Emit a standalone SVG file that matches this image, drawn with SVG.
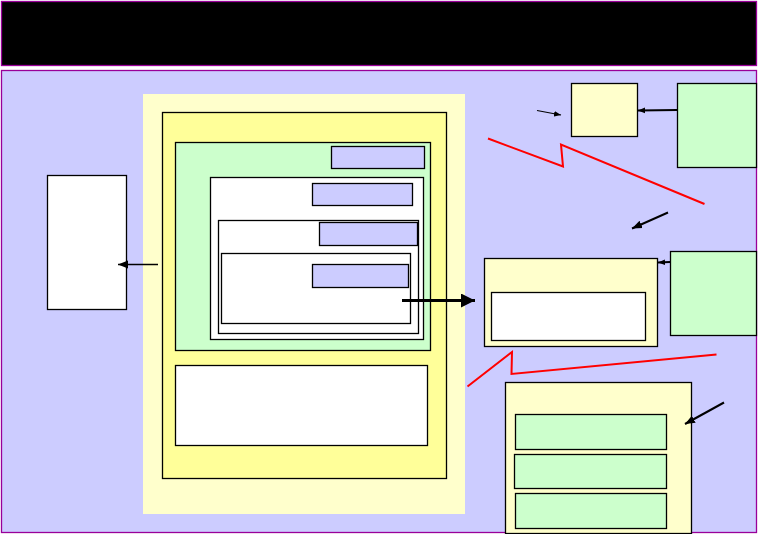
<svg xmlns="http://www.w3.org/2000/svg" width="758" height="534" viewBox="0 0 758 534">
<defs>
<style>
.box{stroke:#000;stroke-width:1.3}
.lb{fill:#CCCCFF}
.ly{fill:#FFFFCC}
.yy{fill:#FFFF99}
.gr{fill:#CCFFCC}
.wh{fill:#FFFFFF}
.conn{stroke:#000;fill:none}
.red{stroke:#FF0000;stroke-width:2;fill:none}
</style>
<marker id="ah" markerUnits="userSpaceOnUse" markerWidth="10" markerHeight="10" viewBox="0 0 10 10" refX="10" refY="5" orient="auto">
<path d="M0,1 L10,5 L0,9 z" fill="#000"/>
</marker>
<marker id="ahs" markerUnits="userSpaceOnUse" markerWidth="7" markerHeight="7" viewBox="0 0 10 10" refX="10" refY="5" orient="auto">
<path d="M0,1 L10,5 L0,9 z" fill="#000"/>
</marker>
<marker id="ahb" markerUnits="userSpaceOnUse" markerWidth="14" markerHeight="14" viewBox="0 0 10 10" refX="10" refY="5" orient="auto">
<path d="M0,0 L10,5 L0,10 z" fill="#000"/>
</marker>
</defs>
<g id="title"><rect x="1.5" y="1.5" width="755" height="64" fill="#000" stroke="#990099" stroke-width="1.3"/></g>
<g id="panel"><rect x="1.5" y="70.5" width="755" height="462" fill="#CCCCFF" stroke="#990099" stroke-width="1.3"/></g>
<g id="outer-area"><rect x="143" y="94" width="322" height="420" fill="#FFFFCC"/></g>
<g id="yellow-box"><rect class="box yy" x="162.5" y="112.5" width="284" height="366"/></g>
<g id="green-box"><rect class="box gr" x="175.5" y="142.5" width="255" height="208"/></g>
<g id="label1"><rect class="box lb" x="331.5" y="146.5" width="93" height="22"/></g>
<g id="white1"><rect class="box wh" x="210.5" y="177.5" width="213" height="162"/></g>
<g id="label2"><rect class="box lb" x="312.5" y="183.5" width="100" height="22"/></g>
<g id="white2"><rect class="box wh" x="218.5" y="220.5" width="200" height="113"/></g>
<g id="label3"><rect class="box lb" x="319.5" y="222.5" width="98" height="23"/></g>
<g id="white3"><rect class="box wh" x="221.5" y="253.5" width="189" height="70"/></g>
<g id="label4"><rect class="box lb" x="312.5" y="264.5" width="96" height="23"/></g>
<g id="bottom-white"><rect class="box wh" x="175.5" y="365.5" width="252" height="80"/></g>
<g id="left-box"><rect class="box wh" x="47.5" y="175.5" width="79" height="134"/></g>
<g id="small-yellow"><rect class="box ly" x="571.5" y="83.5" width="66" height="53"/></g>
<g id="green-top-right"><rect class="box gr" x="677.5" y="83.5" width="79" height="84"/></g>
<g id="mid-yellow"><rect class="box ly" x="484.5" y="258.5" width="173" height="88"/></g>
<g id="mid-white"><rect class="box wh" x="491.5" y="292.5" width="154" height="48"/></g>
<g id="green-mid-right"><rect class="box gr" x="670.5" y="251.5" width="86" height="84"/></g>
<g id="bottom-yellow"><rect class="box ly" x="505.5" y="382.5" width="186" height="151"/></g>
<g id="row1"><rect class="box gr" x="515.5" y="414.5" width="151" height="35"/></g>
<g id="row2"><rect class="box gr" x="514.5" y="454.5" width="152" height="34"/></g>
<g id="row3"><rect class="box gr" x="515.5" y="493.5" width="151" height="35"/></g>
<g id="connectors">
<line class="conn" x1="158" y1="264.5" x2="118" y2="264.5" stroke-width="1.3" marker-end="url(#ah)"/>
<line class="conn" x1="402" y1="300.5" x2="475" y2="300.5" stroke-width="3" marker-end="url(#ahb)"/>
<line class="conn" x1="677" y1="110" x2="638" y2="110.5" stroke-width="2.2" marker-end="url(#ahs)"/>
<line class="conn" x1="537" y1="110.5" x2="561" y2="115" stroke-width="1.2" marker-end="url(#ahs)"/>
<line class="conn" x1="668" y1="212.5" x2="632" y2="228.5" stroke-width="2" marker-end="url(#ah)"/>
<line class="conn" x1="670" y1="262" x2="658" y2="262.5" stroke-width="2.2" marker-end="url(#ahs)"/>
<line class="conn" x1="724" y1="402.5" x2="685" y2="424" stroke-width="2" marker-end="url(#ah)"/>
<polyline class="red" points="488,138.5 563,166.5 561,144.5 704.5,204"/>
<polyline class="red" points="467.5,386.5 512,352 511.5,374 716.5,354.5"/>
</g>
</svg>
